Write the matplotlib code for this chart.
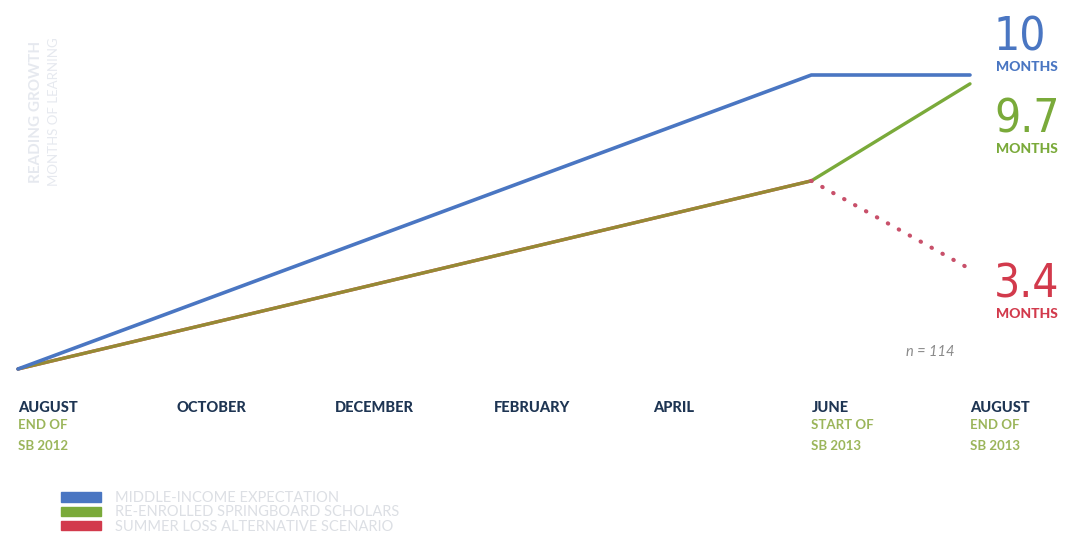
import matplotlib
matplotlib.use('Agg')
from matplotlib import pyplot as plt
from matplotlib.patches import Patch

# months since start of school year (August = 0)
month_pos = [0, 2, 4, 6, 8, 10, 12]
month_names = ['AUGUST', 'OCTOBER', 'DECEMBER', 'FEBRUARY', 'APRIL', 'JUNE', 'AUGUST']
month_notes = ['END OF\nSB 2012', '', '', '', '', 'START OF\nSB 2013', 'END OF\nSB 2013']

# months of learning gained
blue_x = [0, 10, 12]
blue_y = [0, 10, 10]
green_x = [0, 10, 12]
green_y = [0, 6.4, 9.7]
red_x = [10, 12]
red_y = [6.4, 3.4]

end_values = ['10', '9.7', '3.4']
legend_labels = ['MIDDLE-INCOME EXPECTATION',
                 'RE-ENROLLED SPRINGBOARD SCHOLARS',
                 'SUMMER LOSS ALTERNATIVE SCENARIO']

BLUE = '#4a76c2'
GREEN = '#7aaa3a'
OLIVE = '#8f9432'
RED = '#d23a4c'
DOTS = '#c8506a'
NAVY = '#1e3553'
NOTE = '#9bb55a'

fig = plt.figure(figsize=(10.7, 5.55), dpi=100)
ax = fig.add_axes([18 / 1070, (555 - 369) / 555, 952 / 1070, 294 / 555])
ax.set_xlim(0, 12)
ax.set_ylim(0, 10)
ax.axis('off')

# school-year part of the green line looks olive (red line under it)
ax.plot(green_x[:2], green_y[:2], color=RED, lw=2.4, clip_on=False, solid_capstyle='round')
ax.plot(green_x[:2], green_y[:2], color=OLIVE, lw=2.4, alpha=0.9, clip_on=False, solid_capstyle='round')
ax.plot(green_x[1:], green_y[1:], color=GREEN, lw=2.4, clip_on=False, solid_capstyle='round')
ax.plot(blue_x, blue_y, color=BLUE, lw=2.6, clip_on=False, solid_capstyle='round', zorder=3)
ax.plot(red_x, red_y, color=DOTS, lw=3, ls=(0, (0.1, 2.9)), dash_capstyle='round', clip_on=False)

# month labels under the plot
for m, name, note in zip(month_pos, month_names, month_notes):
    px = ax.transData.transform((m, 0))[0] / 1070
    fig.text(px, 1 - 408 / 555, name, ha='left', va='center', fontsize=10.5,
             fontweight='black', color=NAVY, family='Lato')
    if note:
        fig.text(px, 1 - 419 / 555, note, ha='left', va='top', fontsize=9.5,
                 fontweight='bold', color=NOTE, family='Lato', linespacing=1.9)

# end values on the right
label_y = [38, 120, 285]
colors = [BLUE, GREEN, RED]
for val, ly, c in zip(end_values, label_y, colors):
    fig.text(994 / 1070, 1 - ly / 555, val, ha='left', va='center',
             fontsize=33, color=c, family='DejaVu Sans', fontstretch='condensed')
    fig.text(996 / 1070, 1 - (ly + 29) / 555, 'MONTHS', ha='left', va='center',
             fontsize=10, fontweight='black', color=c, family='Lato')

fig.text(930 / 1070, 1 - 352 / 555, 'n = 114', ha='center', va='center',
         fontsize=10.5, style='italic', color='#8a8a8a', family='Lato')

# faint y-axis label
fig.text(36 / 1070, 1 - 112 / 555, 'READING GROWTH', rotation=90, ha='center', va='center',
         fontsize=11, color='#e6e9ef', family='Lato', fontweight='bold')
fig.text(54 / 1070, 1 - 112 / 555, 'MONTHS OF LEARNING', rotation=90, ha='center', va='center',
         fontsize=9.5, color='#e6e9ef', family='Lato')

handles = [Patch(color=c) for c in [BLUE, GREEN, RED]]
leg = fig.legend(handles, legend_labels, loc='upper left', bbox_to_anchor=(48 / 1070, 1 - 478 / 555),
                 frameon=False, handlelength=2.7, handleheight=0.6, handletextpad=1.0,
                 labelspacing=0.02, prop={'family': 'Lato', 'size': 10.5})
for t in leg.get_texts():
    t.set_color('#dcdfe4')

fig.savefig('out.png', dpi=100, facecolor='white')
